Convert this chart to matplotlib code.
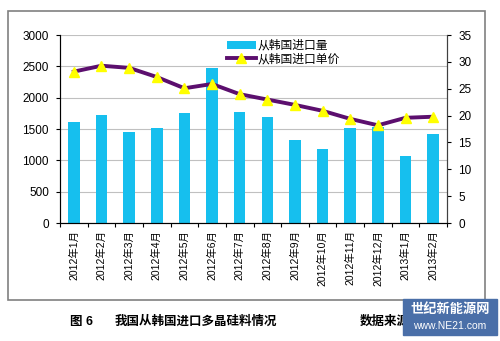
import matplotlib.pyplot as plt
from matplotlib.patches import Rectangle
import numpy as np

plt.rcParams['font.family'] = ['Liberation Sans', 'Noto Sans CJK SC', 'DejaVu Sans']

months = ['2012年1月', '2012年2月', '2012年3月', '2012年4月', '2012年5月', '2012年6月',
          '2012年7月', '2012年8月', '2012年9月', '2012年10月', '2012年11月', '2012年12月',
          '2013年1月', '2013年2月']
volume = [1620, 1720, 1450, 1520, 1750, 2470, 1765, 1695, 1325, 1180, 1510, 1540, 1070, 1420]
price = [28.2, 29.3, 28.9, 27.2, 25.1, 25.9, 24.0, 23.0, 22.0, 20.9, 19.4, 18.2, 19.6, 19.8]

fig = plt.figure(figsize=(5, 3.41), dpi=100)

# outer chart border
fig.patches.append(Rectangle((8 / 500, 1 - 300 / 341), 477 / 500, 289 / 341,
                             transform=fig.transFigure, fill=False,
                             edgecolor='#808080', linewidth=1.2))

ax = fig.add_axes([0.12, 0.346, 0.774, 0.551])
x = np.arange(len(months))
ax.bar(x, volume, width=0.42, color='#16bfee', label='从韩国进口量', zorder=2)
ax.set_ylim(0, 3000)
ax.set_yticks(range(0, 3001, 500))
ax.set_xlim(-0.5, len(months) - 0.5)
ax.grid(axis='y', color='#c0c0c0', linewidth=0.8, zorder=0)
ax.set_axisbelow(True)
ax.set_xticks(np.arange(-0.5, len(months), 1))
ax.set_xticklabels([])
ax.set_xticks(x, minor=True)
ax.set_xticklabels(months, minor=True, rotation=90, fontsize=7.5)
ax.tick_params(axis='x', which='minor', length=0, pad=5)
ax.tick_params(axis='x', which='major', length=3, direction='out')
ax.tick_params(axis='y', labelsize=8.5, length=3, pad=5)
ax.spines['top'].set_visible(False)
for s in ['left', 'bottom', 'right']:
    ax.spines[s].set_color('#404040')

ax2 = ax.twinx()
ax2.plot(x, price, color='#5c0f6e', linewidth=2.8, marker='^', markersize=6.5,
         markerfacecolor='#ffff00', markeredgecolor='#ffff00', label='从韩国进口单价', zorder=3)
ax2.set_ylim(0, 35)
ax2.set_yticks(range(0, 36, 5))
ax2.tick_params(axis='y', labelsize=8.5, length=3, pad=5)
ax2.spines['top'].set_visible(False)
ax2.spines['right'].set_color('#404040')

h1, l1 = ax.get_legend_handles_labels()
h2, l2 = ax2.get_legend_handles_labels()
ax2.legend(h1 + h2, l1 + l2, loc='upper left', bbox_to_anchor=(0.42, 1.0),
           frameon=False, fontsize=8.5, handlelength=2.4, handletextpad=0.2,
           labelspacing=0.15, borderaxespad=0)

fig.text(70 / 500, 1 - 322 / 341, '图 6', fontsize=9, fontweight='bold', va='center')
fig.text(115 / 500, 1 - 322 / 341, '我国从韩国进口多晶硅料情况', fontsize=9,
         fontweight='bold', va='center')
fig.text(360 / 500, 1 - 322 / 341, '数据来源', fontsize=9, fontweight='bold', va='center')

# watermark
fig.patches.append(Rectangle((403 / 500, 1 - 335 / 341), 94 / 500, 36 / 341,
                             transform=fig.transFigure, color='#4a6fa8', zorder=5))
fig.text(450 / 500, 1 - 310 / 341, '世纪新能源网', fontsize=9.5, color='white',
         fontweight='bold', ha='center', va='center', zorder=6)
fig.text(450 / 500, 1 - 326 / 341, 'www.NE21.com', fontsize=7.5, color='white',
         ha='center', va='center', zorder=6)

fig.savefig('out.png', dpi=100)
